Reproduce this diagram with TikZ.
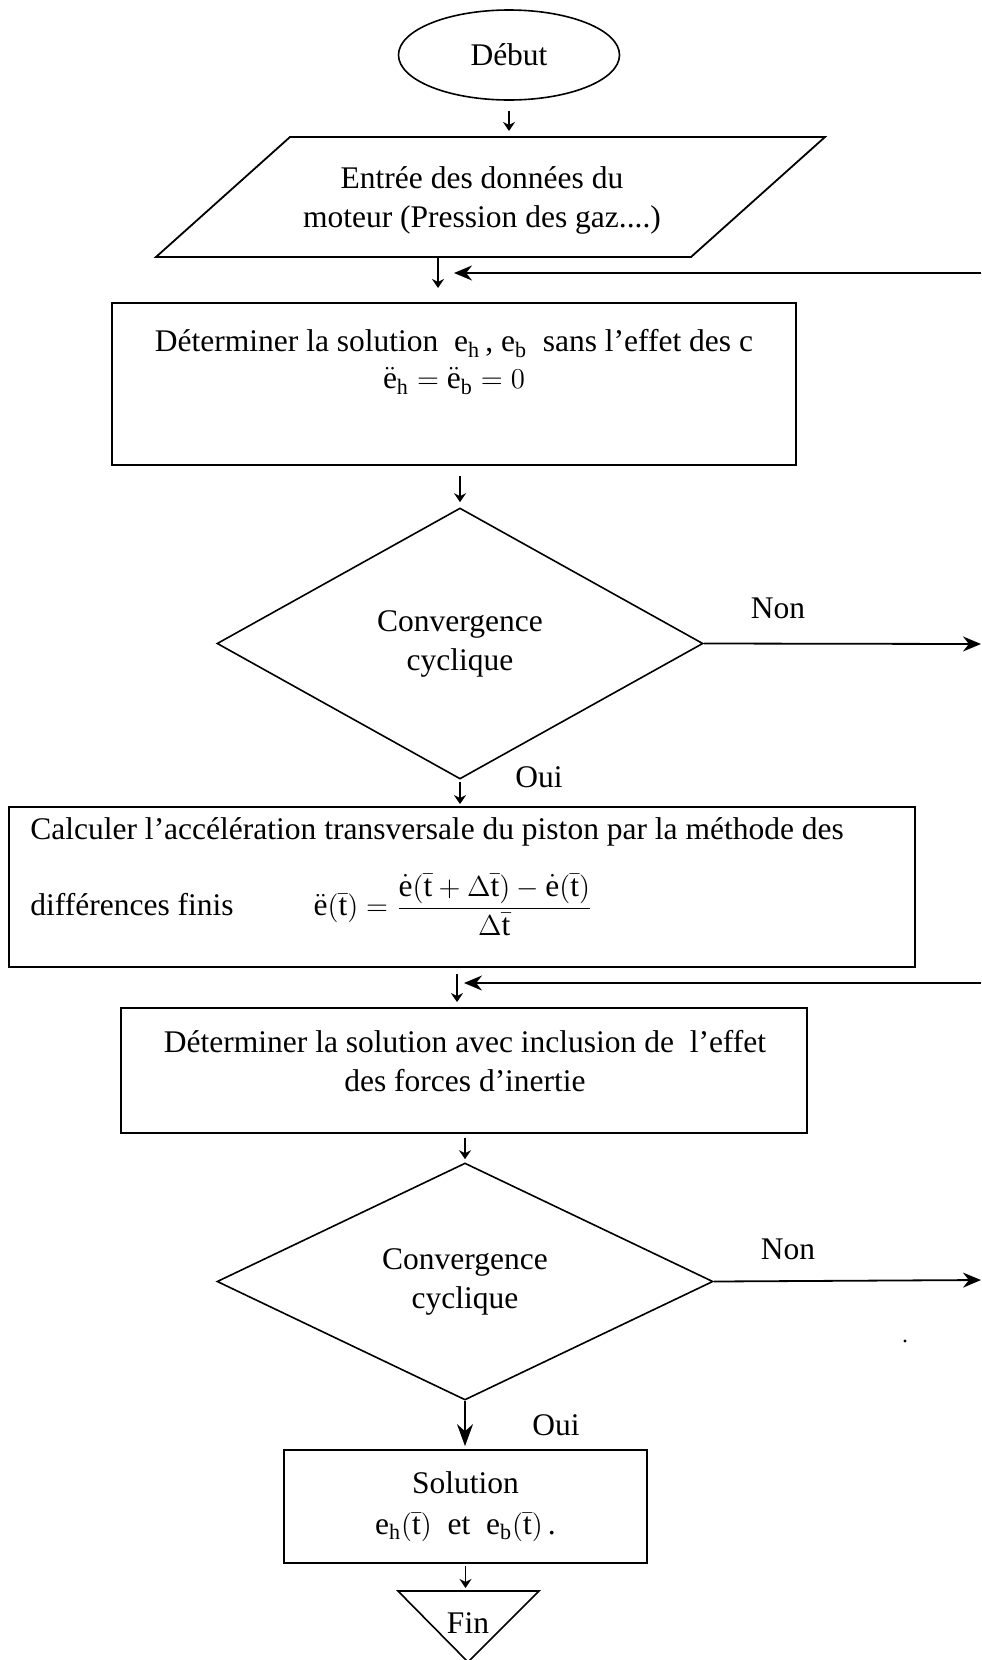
\documentclass[tikz,border=0pt]{standalone}
\usepackage{amsmath,amssymb}
\usepackage{fontspec}
\setmainfont{Liberation Serif}
\usetikzlibrary{arrows.meta,shapes.geometric}

\tikzset{
  proc/.style={draw, line width=0.9pt, rectangle, inner sep=0pt},
  decis/.style={draw, line width=0.8pt, diamond, inner sep=0pt, align=center},
  txt/.style={align=center, inner sep=0pt},
  lien/.style={line width=0.8pt, -{Stealth[length=4.5pt,width=6pt]}},
  retour/.style={line width=0.9pt, -{Stealth[length=9pt,width=7.5pt]}},
}

\begin{document}
\begin{tikzpicture}[x=0.5pt, y=-0.5pt, font=\fontsize{15.75}{19.5}\selectfont]
    \useasboundingbox (0,0) rectangle (981,1660);

    % bord droit (retours et sorties Non)
    \coordinate (r1) at (981,273);
    \coordinate (r2) at (981,644);
    \coordinate (r3) at (981,983);
    \coordinate (r4) at (981,1280);

    % debut et donnees
    \node[draw, line width=0.8pt, ellipse, minimum width=110.5pt, minimum height=45pt, inner sep=0pt] (debut) at (509,55) {Début};
    \coordinate (entTL) at (290,137);
    \coordinate (entTR) at (825,137);
    \coordinate (entBR) at (691,257);
    \coordinate (entBL) at (156,257);
    \draw[line width=0.9pt] (entTL) -- (entTR) -- (entBR) -- (entBL) -- cycle;
    \node[txt] (entree) at (482,200) {Entrée des données du\\moteur (Pression des gaz....)};

    % premiere solution
    \node[proc, minimum width=342pt, minimum height=81pt] (calc1) at (454,384) {};
    \node[txt] (calc1txt) at (454,362) {Déterminer la solution\ \ $\mathrm{e_h}$\,, $\mathrm{e_b}$\ \ sans l'effet des c\\[-1pt]
        $\ddot{\mathrm{e}}_{\mathrm{h}}=\ddot{\mathrm{e}}_{\mathrm{b}}=0$};

    \node[decis, minimum width=243pt, minimum height=135.5pt] (conv1) at (460,643.5) {Convergence\\cyclique};
    \node (non1) at (778,608) {Non};
    \node (oui1) at (539,777) {Oui};

    % acceleration
    \node[proc, minimum width=453pt, minimum height=80pt] (acc) at (462,887) {};
    \node[anchor=west, inner sep=0pt] (acctxt1) at (30,832) {Calculer l'accélération transversale du piston par la méthode des};
    \node[anchor=west, inner sep=0pt] (acctxt2) at (30,905) {différences finis\hspace{40pt}%
        $\ddot{\mathrm{e}}(\bar{\mathrm{t}})=\dfrac{\dot{\mathrm{e}}(\bar{\mathrm{t}}+\Delta\bar{\mathrm{t}})-\dot{\mathrm{e}}(\bar{\mathrm{t}})}{\Delta\bar{\mathrm{t}}}$};

    % solution avec inertie
    \node[proc, minimum width=343pt, minimum height=62.5pt] (inert) at (464,1070.5) {};
    \node[txt] (inerttxt) at (465,1061.5) {Déterminer la solution avec inclusion de\ \ l'effet\\des forces d'inertie};

    \node[decis, minimum width=248pt, minimum height=118.5pt] (conv2) at (465,1281.5) {Convergence\\cyclique};
    \node (non2) at (788,1249) {Non};
    \node (oui2) at (556,1425) {Oui};
    \fill (905,1341) circle (0.8pt);

    % fin
    \node[proc, minimum width=181.5pt, minimum height=56.5pt, align=center] (sol) at (465.5,1506.5)
        {Solution\\[1pt]$\mathrm{e_h}(\bar{\mathrm{t}})$\ \ et\ \ $\mathrm{e_b}(\bar{\mathrm{t}})$\,.};
    \coordinate (finA) at (398,1591);
    \coordinate (finB) at (539,1591);
    \coordinate (finC) at (468,1662);
    \draw[line width=0.8pt] (finA) -- (finB) -- (finC) -- cycle;
    \node (fin) at (468,1623) {Fin};

    % fleches
    \draw[lien, shorten <=5pt, shorten >=3pt] (debut.south) -- (debut.south |- entTL);
    \draw[lien] ([xshift=141pt]entBL) -- ++(0,31);
    \draw[retour] (r1) -- (r1 -| calc1.north);
    \draw[lien, shorten <=5pt, shorten >=2.5pt] (conv1.north |- calc1.south) -- (conv1.north);
    \draw[retour] (conv1.east) -- (r2);
    \draw[lien, shorten <=1pt, shorten >=1pt] (conv1.south) -- (conv1.south |- acc.north);
    \draw[lien, shorten <=3pt, shorten >=2.5pt] ([xshift=-2.5pt]acc.south) -- ([xshift=-2.5pt]acc.south |- inert.north);
    \draw[retour] (r3) -- (r3 -| inert.north);
    \draw[lien, shorten <=2pt, shorten >=1.5pt] (conv2.north |- inert.south) -- (conv2.north);
    \draw[retour] (conv2.east) -- (r4);
    \draw[line width=0.9pt, -{Stealth[length=11pt,width=8pt]}, shorten >=1.5pt] (conv2.south) -- (conv2.south |- sol.north);
    \draw[lien, shorten <=1pt, shorten >=1.5pt] (sol.south) -- (sol.south |- finA);

\end{tikzpicture}
\end{document}
